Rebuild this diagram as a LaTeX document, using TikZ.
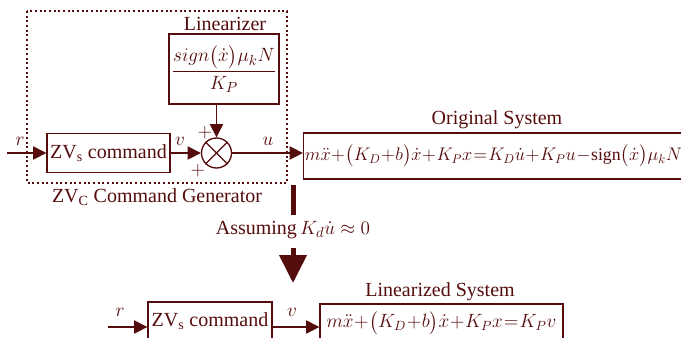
\documentclass[tikz,border=0pt]{standalone}
\usepackage{fontspec}
\setmainfont{Liberation Serif}
\usepackage{amsmath}
\usepackage{graphicx}
\usetikzlibrary{arrows.meta}
\definecolor{maroon}{RGB}{85,12,12}
\newcommand{\tightmath}{\medmuskip=0.5mu\thickmuskip=1mu\relax}

\begin{document}
\begin{tikzpicture}[x=0.75pt,y=-0.75pt,
    every node/.style={text=maroon,font=\fontsize{15}{17}\selectfont},
    blk/.style={draw=maroon,line width=1pt,inner sep=1pt},
    eqn/.style={font=\fontsize{14}{17}\selectfont},
    sig/.style={draw=maroon,line width=1pt,-{Triangle[length=10pt,width=10pt]}},
    big/.style={draw=maroon,line width=3.75pt}]
  \useasboundingbox (0,0) rectangle (681,337);
  \draw[maroon,line width=1.5pt,dotted] (27,11) rectangle (287,183);
  \node[blk,minimum width=92.25pt,minimum height=29.25pt] (zvs) at (108.5,153) {ZV\textsubscript{s} command};
  \node[blk,minimum width=82.5pt,minimum height=52.5pt] (lin) at (224,69) {$\dfrac{sign\bigl(\dot{x}\bigr)\mu_k N}{K_P}$};
  \node[draw=maroon,line width=1pt,circle,minimum size=22.5pt,inner sep=0pt] (sum) at (216.5,153) {};
  \node[blk,eqn,minimum width=279.75pt,minimum height=34.5pt] (orig) at (493.5,156) {\scalebox{0.95}{$\tightmath m\ddot{x}+\bigl(K_D+b\bigr)\dot{x}+K_Px=K_D\dot{u}+K_Pu-\mathrm{sign}\bigl(\dot{x}\bigr)\mu_kN$}};
  \draw[maroon,line width=1pt] (sum.north west) -- (sum.south east) (sum.north east) -- (sum.south west);
  \coordinate (rin) at (7,153);
  \draw[sig] (rin) -- (zvs);
  \draw[sig] (zvs) -- (sum);
  \draw[sig] (sum |- lin.south) -- (sum);
  \draw[sig] (sum) -- (sum -| orig.west);
  \node (lintitle) at (225,24) {Linearizer};
  \node (origtitle) at (497,120) {Original System};
  \node (gentitle) at (157,197) {ZV\textsubscript{C} Command Generator};
  \node (r) at (20,141) {$r$};
  \node (v) at (180,141) {$v$};
  \node (u) at (268,141) {$u$};
  \node (p1) at (205,133) {$+$};
  \node (p2) at (198,171) {$+$};
  \coordinate (bartop) at (293,185);
  \coordinate (barend) at (293,215);
  \draw[big] (bartop) -- (barend);
  \node (assume) at (293,230) {Assuming$\,K_d\dot{u}\approx 0$};
  \coordinate (stem) at (293,248);
  \coordinate (tip) at (293,283);
  \draw[big,-{Triangle[length=21pt,width=20pt]}] (stem) -- (tip);
  \coordinate (rin2) at (108,327);
  \node[blk,minimum width=93pt,minimum height=28.5pt] (zvs2) at (210,321) {ZV\textsubscript{s} command};
  \node[blk,eqn,minimum width=182.25pt,minimum height=28.5pt] (linsys) at (441.5,323) {$\tightmath m\ddot{x}+\bigl(K_D+b\bigr)\dot{x}+K_Px=K_Pv$};
  \draw[sig] (rin2) -- (rin2 -| zvs2.west);
  \draw[sig] (zvs2.east |- rin2) -- (linsys.west |- rin2);
  \node (linsystitle) at (440,292) {Linearized System};
  \node (r2) at (120,312) {$r$};
  \node (v2) at (292,312) {$v$};
\end{tikzpicture}
\end{document}
